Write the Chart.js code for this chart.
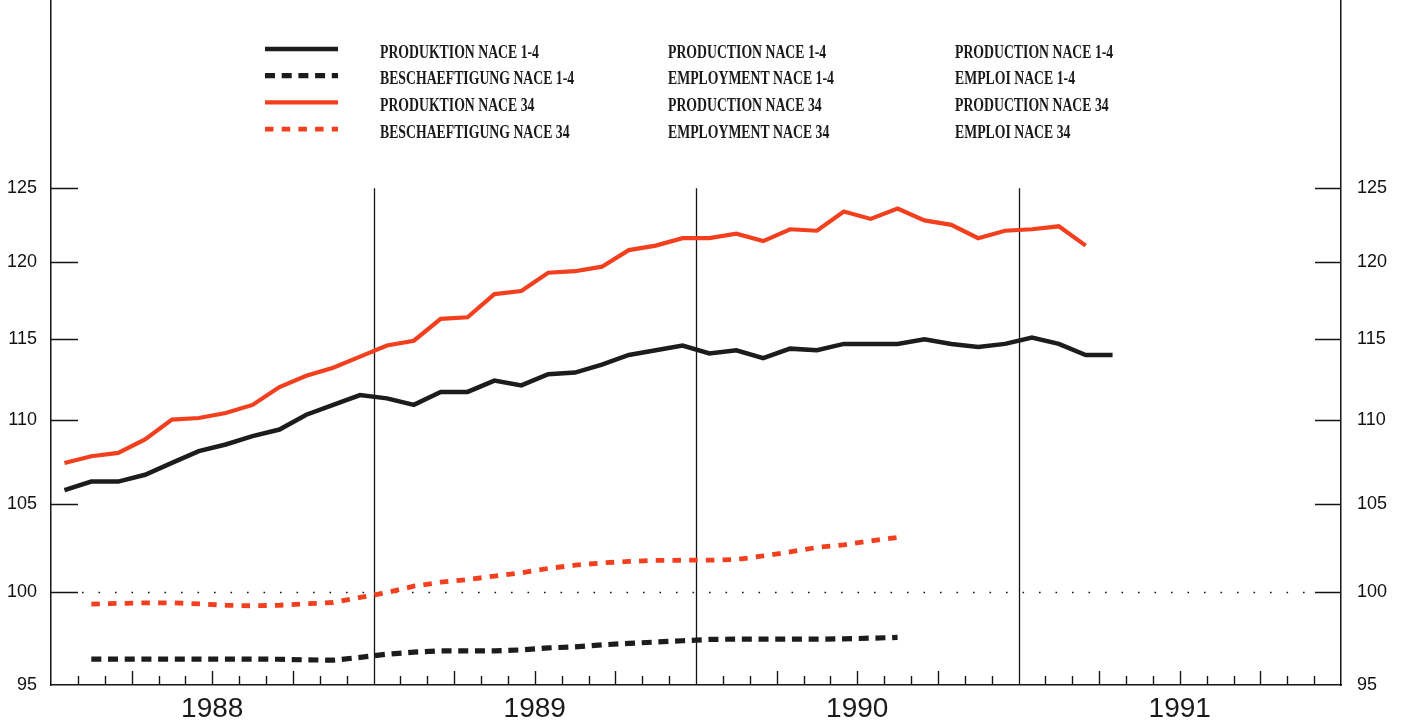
<!DOCTYPE html>
<html>
<head>
<meta charset="utf-8">
<script src="https://cdn.jsdelivr.net/npm/chart.js@4.4.1/dist/chart.umd.min.js"></script>
<style>
  html, body { margin: 0; padding: 0; background: #fff; }
  #wrap { width: 1402px; height: 724px; }
</style>
</head>
<body>
<div id="wrap"><canvas id="chart"></canvas></div>
<script>
// monthly series, index 0 = January 1988
const years = ["1988", "1989", "1990", "1991"];
const yTicks = [95, 100, 105, 110, 115, 120, 125];

const prodNace14 = [
  105.8, 106.3, 106.3, 106.7, 107.4, 108.1, 108.5, 109.0, 109.4, 110.3, 110.9, 111.5,
  111.3, 110.9, 111.7, 111.7, 112.4, 112.1, 112.8, 112.9, 113.4, 114.0, 114.3, 114.6,
  114.1, 114.3, 113.8, 114.4, 114.3, 114.7, 114.7, 114.7, 115.0, 114.7, 114.5, 114.7,
  115.1, 114.7, 114.0, 114.0
];
const empNace14 = [
  null, 96.37, 96.37, 96.37, 96.37, 96.37, 96.37, 96.37, 96.36, 96.33, 96.31, 96.46,
  96.63, 96.74, 96.81, 96.81, 96.81, 96.86, 96.97, 97.02, 97.13, 97.21, 97.28, 97.35,
  97.42, 97.44, 97.44, 97.44, 97.44, 97.45, 97.49, 97.53
];
const prodNace34 = [
  107.4, 107.8, 108.0, 108.8, 110.0, 110.1, 110.4, 110.9, 112.0, 112.7, 113.2, 113.9,
  114.6, 114.9, 116.3, 116.4, 117.9, 118.1, 119.3, 119.4, 119.7, 120.8, 121.1, 121.6,
  121.6, 121.9, 121.4, 122.2, 122.1, 123.4, 122.9, 123.6, 122.8, 122.5, 121.6, 122.1,
  122.2, 122.4, 121.1
];
const empNace34 = [
  null, 99.34, 99.38, 99.41, 99.41, 99.36, 99.28, 99.25, 99.28, 99.36, 99.43, 99.71,
  99.98, 100.33, 100.55, 100.70, 100.89, 101.07, 101.32, 101.50, 101.63, 101.71, 101.77, 101.78,
  101.78, 101.82, 102.02, 102.25, 102.50, 102.65, 102.87, 103.07
];

const legendDe = ["PRODUKTION NACE 1-4", "BESCHAEFTIGUNG NACE 1-4", "PRODUKTION NACE 34", "BESCHAEFTIGUNG NACE 34"];
const legendEn = ["PRODUCTION NACE 1-4", "EMPLOYMENT NACE 1-4", "PRODUCTION NACE 34", "EMPLOYMENT NACE 34"];
const legendFr = ["PRODUCTION NACE 1-4", "EMPLOI NACE 1-4", "PRODUCTION NACE 34", "EMPLOI NACE 34"];

const BLACK = "#1c1c1c";
const RED = "#f2401f";
const AXIS = "#151515";
const FONT = "'Liberation Sans', Arial, sans-serif";

// monthly values sit in the middle of their month
const toPoints = arr => arr.map((v, i) => ({ x: i + 0.5, y: v }));

function strokeLine(ctx, x1, y1, x2, y2) {
  ctx.beginPath();
  ctx.moveTo(x1, y1);
  ctx.lineTo(x2, y2);
  ctx.stroke();
}

// inner ticks, dotted 100 line, year separators
const frame = {
  id: "frame",
  beforeDatasetsDraw(chart) {
    const { ctx, chartArea: a, scales: { x, y } } = chart;
    ctx.save();
    ctx.strokeStyle = AXIS;
    ctx.lineWidth = 1.5;
    yTicks.forEach(v => {
      if (v === 95) return;
      const py = Math.round(y.getPixelForValue(v)) + 0.5;
      strokeLine(ctx, a.left, py, a.left + 27, py);
      strokeLine(ctx, a.right - 26, py, a.right, py);
    });

    const p100 = Math.round(y.getPixelForValue(100)) + 0.5;
    ctx.setLineDash([1.6, 14.9]);
    ctx.lineWidth = 1.6;
    strokeLine(ctx, a.left + 31, p100, a.right - 26, p100);
    ctx.setLineDash([]);

    ctx.lineWidth = 1.4;
    for (let m = 1; m < 48; m++) {
      if (m % 12 === 0) continue;
      const px = Math.round(x.getPixelForValue(m)) + 0.5;
      strokeLine(ctx, px, a.bottom, px, a.bottom - (m % 3 === 0 ? 14 : 9));
    }

    ctx.lineWidth = 1.3;
    const top = y.getPixelForValue(125);
    for (let m = 12; m < 48; m += 12) {
      const px = Math.round(x.getPixelForValue(m)) + 0.5;
      strokeLine(ctx, px, top, px, a.bottom);
    }
    ctx.restore();
  }
};

// three-language legend at the top of the plot
const legendBlock = {
  id: "legendBlock",
  afterDraw(chart) {
    const { ctx } = chart;
    ctx.save();
    ctx.font = "bold 18px 'Liberation Serif', 'Times New Roman', serif";
    ctx.fillStyle = "#1a1a1a";
    ctx.textBaseline = "middle";
    const squeeze = 159 / ctx.measureText(legendDe[0]).width;
    chart.data.datasets.forEach((ds, r) => {
      const ly = 49 + r * 26.7;
      ctx.strokeStyle = ds.borderColor;
      ctx.lineWidth = ds.borderWidth;
      ctx.setLineDash(ds.borderDash || []);
      strokeLine(ctx, 265, ly, 338, ly);
      ctx.setLineDash([]);
      const ty = 53 + r * 26.7;
      [[legendDe[r], 380], [legendEn[r], 668], [legendFr[r], 955]].forEach(([t, tx]) => {
        ctx.save();
        ctx.translate(tx, ty);
        ctx.scale(squeeze, 1);
        ctx.fillText(t, 0, 0);
        ctx.restore();
      });
    });
    ctx.restore();
  }
};

function logAxis(position, width, padding) {
  return {
    type: "logarithmic",
    position: position,
    min: 95,
    max: 138.7,
    grid: { display: false, drawTicks: false },
    border: { display: true, color: AXIS, width: 1.5 },
    afterBuildTicks: s => { s.ticks = yTicks.map(v => ({ value: v })); },
    afterFit: s => { s.width = width; s.paddingTop = 0; s.paddingBottom = 0; },
    ticks: {
      autoSkip: false,
      padding: padding,
      color: "#111",
      font: { family: FONT, size: 18 },
      callback: v => String(v)
    }
  };
}

new Chart(document.getElementById("chart"), {
  type: "line",
  data: {
    datasets: [
      { label: "PRODUKTION NACE 1-4", data: toPoints(prodNace14), borderColor: BLACK, borderWidth: 4.5 },
      { label: "BESCHAEFTIGUNG NACE 1-4", data: toPoints(empNace14), borderColor: BLACK, borderWidth: 5.2, borderDash: [10, 6.7] },
      { label: "PRODUKTION NACE 34", data: toPoints(prodNace34), borderColor: RED, borderWidth: 4.2 },
      { label: "BESCHAEFTIGUNG NACE 34", data: toPoints(empNace34), borderColor: RED, borderWidth: 4.8, borderDash: [8.5, 8.2] }
    ]
  },
  options: {
    responsive: true,
    maintainAspectRatio: false,
    animation: false,
    layout: { padding: 0 },
    elements: { point: { radius: 0 }, line: { tension: 0, borderCapStyle: "butt" } },
    plugins: { legend: { display: false }, tooltip: { enabled: false } },
    scales: {
      x: {
        type: "linear",
        min: 0,
        max: 48,
        grid: { display: false, drawTicks: false },
        border: { display: true, color: AXIS, width: 1.5 },
        afterBuildTicks: s => { s.ticks = years.map((_, i) => ({ value: i * 12 + 6 })); },
        afterFit: s => { s.height = 39; s.paddingLeft = 0; s.paddingRight = 0; },
        ticks: {
          autoSkip: false,
          maxRotation: 0,
          padding: 7,
          color: "#1a1a1a",
          font: { family: FONT, size: 28 },
          callback: (v, i) => years[i]
        }
      },
      y: logAxis("left", 51, 14),
      y2: logAxis("right", 61, 16)
    }
  },
  plugins: [frame, legendBlock]
});
</script>
</body>
</html>
